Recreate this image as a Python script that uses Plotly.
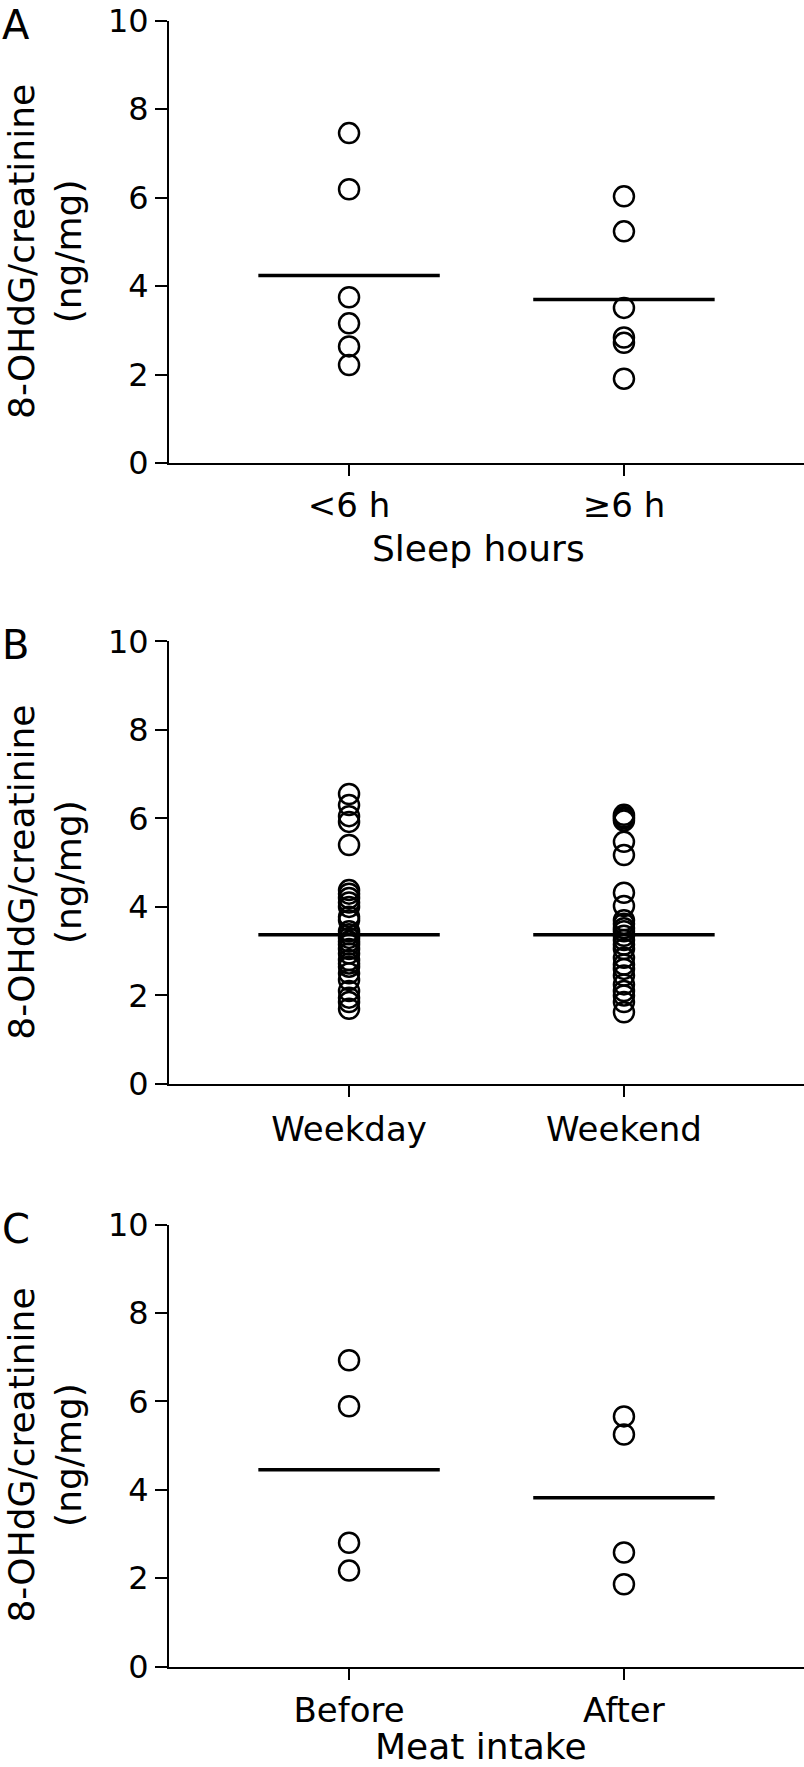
import plotly.graph_objects as go

# ---------------- data ----------------
sleep_categories = ["<6 h", "≥6 h"]
sleep_lt6 = [7.46, 6.19, 3.75, 3.16, 2.64, 2.22]
sleep_ge6 = [6.03, 5.24, 3.51, 2.84, 2.72, 1.91]
sleep_means = [4.24, 3.70]

day_categories = ["Weekday", "Weekend"]
weekday = [6.55, 6.30, 6.05, 5.92, 5.40, 4.38, 4.30, 4.20, 4.10, 4.00, 3.78, 3.70,
           3.45, 3.38, 3.30, 3.22, 3.15, 3.05, 2.95, 2.80, 2.72, 2.65, 2.50, 2.35,
           2.10, 1.95, 1.85, 1.70]
weekend = [6.08, 6.03, 6.00, 5.95, 5.47, 5.17, 4.32, 4.02, 3.70, 3.62, 3.52, 3.45,
           3.35, 3.25, 3.15, 3.05, 2.85, 2.70, 2.60, 2.45, 2.25, 2.10, 2.00, 1.85, 1.62]
day_means = [3.37, 3.37]

meat_categories = ["Before", "After"]
meat_before = [6.93, 5.89, 2.80, 2.17]
meat_after = [5.66, 5.25, 2.58, 1.86]
meat_means = [4.45, 3.82]

y_ticks = [0, 2, 4, 6, 8, 10]
panel_letters = ["A", "B", "C"]
x_titles = ["Sleep hours", "", "Meat intake"]
y_title = "8-OHdG/creatinine<br>(ng/mg)"

# ---------------- layout geometry ----------------
W, H = 804, 1767
FONT = "DejaVu Sans"
x_left_px = 169
panels_px = [(20.7, 463.2), (641.3, 1084.0), (1224.6, 1666.5)]  # (top, bottom) pixel rows
x_title_px = [(478, 549), None, (481, 1746)]
x_label_standoff = [0, 3, 2]
x_range = [-0.655, 1.655]
half_w = 0.33

def py(p):
    return 1 - p / H

def px(p):
    return p / W

fig = go.Figure()

groups = [
    (sleep_categories, [sleep_lt6, sleep_ge6], sleep_means),
    (day_categories, [weekday, weekend], day_means),
    (meat_categories, [meat_before, meat_after], meat_means),
]

for i, (cats, vals, means) in enumerate(groups):
    xa = "x" if i == 0 else f"x{i+1}"
    ya = "y" if i == 0 else f"y{i+1}"
    for j, v in enumerate(vals):
        fig.add_trace(go.Scatter(
            x=[j] * len(v), y=v, mode="markers", xaxis=xa, yaxis=ya,
            marker=dict(symbol="circle-open", size=20, color="black",
                        line=dict(color="black", width=2.5)),
            showlegend=False, hoverinfo="y", cliponaxis=False))
        fig.add_trace(go.Scatter(
            x=[j - half_w, j + half_w], y=[means[j], means[j]], mode="lines",
            xaxis=xa, yaxis=ya, line=dict(color="black", width=3.5),
            showlegend=False, hoverinfo="skip"))

    top, bot = panels_px[i]
    xkey = "xaxis" if i == 0 else f"xaxis{i+1}"
    ykey = "yaxis" if i == 0 else f"yaxis{i+1}"
    fig.update_layout(**{
        xkey: dict(domain=[px(x_left_px), 1.0], range=x_range, anchor=ya,
                   automargin=False,
                   tickvals=[0, 1], ticktext=cats, showline=True, linecolor="black",
                   linewidth=2, ticks="outside", ticklen=11, tickwidth=2,
                   tickcolor="black", showgrid=False, zeroline=False,
                   ticklabelstandoff=x_label_standoff[i],
                   tickfont=dict(family=FONT, size=34, color="black")),
        ykey: dict(domain=[py(bot), py(top)], range=[0, 10], anchor=xa,
                   automargin=False,
                   tickvals=y_ticks, showline=True, linecolor="black", linewidth=2,
                   ticks="outside", ticklen=12, tickwidth=2, tickcolor="black",
                   showgrid=False, zeroline=False,
                   tickfont=dict(family=FONT, size=32, color="black")),
    })
    # y-axis title
    fig.add_annotation(x=px(45), y=py((top + bot) / 2 + 10), xref="paper", yref="paper",
                       text=y_title, textangle=-90, showarrow=False,
                       xanchor="center", yanchor="middle",
                       font=dict(family=FONT, size=36, color="black"))
    # panel letter
    fig.add_annotation(x=px(0), y=py(top - 21), xref="paper", yref="paper",
                       text=panel_letters[i], showarrow=False,
                       xanchor="left", yanchor="top",
                       font=dict(family=FONT, size=40, color="black"))
    # x-axis title
    if x_titles[i]:
        tx, ty = x_title_px[i]
        fig.add_annotation(x=px(tx), y=py(ty), xref="paper", yref="paper",
                           text=x_titles[i], showarrow=False,
                           xanchor="center", yanchor="middle",
                           font=dict(family=FONT, size=36, color="black"))

fig.update_layout(width=W, height=H, margin=dict(l=0, r=0, t=0, b=0, autoexpand=False),
                  plot_bgcolor="white", paper_bgcolor="white")

fig.write_html("out.html", config={"displayModeBar": False},
               post_script="document.body.style.margin='0px';"
                           "document.body.style.overflow='hidden';")
